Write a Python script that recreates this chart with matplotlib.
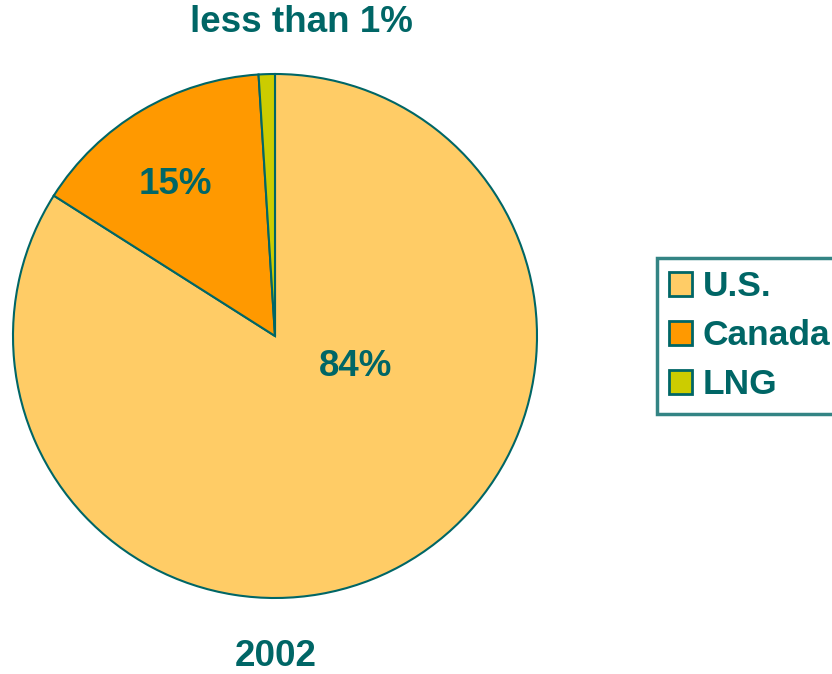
import matplotlib
matplotlib.use("Agg")
import matplotlib.pyplot as plt
from matplotlib.patches import Patch

categories = ["U.S.", "Canada", "LNG"]
values = [84, 15, 1]
colors = ["#FFCC66", "#FF9900", "#CCCC00"]
teal = "#006666"

plt.rcParams['font.family'] = ['Liberation Sans', 'DejaVu Sans']

W, H = 832, 674
fig = plt.figure(figsize=(W/100, H/100), dpi=100)
cx, cy, r = 275, 336, 262
ax = fig.add_axes([(cx - r)/W, (H - cy - r)/H, 2*r/W, 2*r/H])
ax.pie(values, colors=colors, startangle=90, counterclock=False, radius=1,
       wedgeprops=dict(edgecolor=teal, linewidth=1.5))
ax.set_xlim(-1, 1)
ax.set_ylim(-1, 1)
ax.set_aspect('equal')
ax.axis('off')

def px(x, y):
    return x / W, 1 - y / H

fs = 26.5
fig.text(*px(301, 23), "less than 1%", ha='center', va='center', color=teal, fontsize=fs, fontweight='bold')
fig.text(*px(175, 184), "15%", ha='center', va='center', color=teal, fontsize=fs, fontweight='bold')
fig.text(*px(356, 366), "84%", ha='center', va='center', color=teal, fontsize=fs, fontweight='bold')
fig.text(*px(276, 657), "2002", ha='center', va='center', color=teal, fontsize=fs, fontweight='bold')

lfs = 25.5
handles = [Patch(facecolor=c, edgecolor=teal, linewidth=2) for c in colors]
leg = fig.legend(handles, categories, loc='upper left', bbox_to_anchor=px(657, 258),
                 frameon=True, fancybox=False, fontsize=lfs, handlelength=0.64, handleheight=0.64,
                 handletextpad=0.3, labelspacing=0.45, borderpad=0.35, borderaxespad=0)
for t in leg.get_texts():
    t.set_color(teal)
    t.set_fontweight('bold')
leg.get_frame().set_edgecolor(teal)
leg.get_frame().set_linewidth(2.5)

fig.savefig("out.png", dpi=100)
